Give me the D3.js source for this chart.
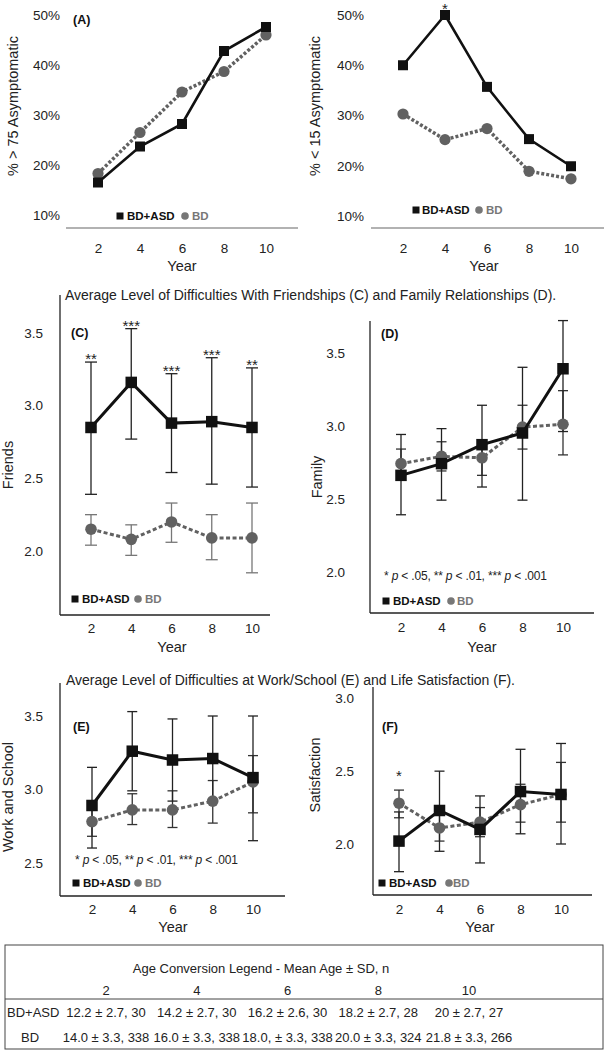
<!DOCTYPE html>
<html><head><meta charset="utf-8">
<script src="https://cdn.jsdelivr.net/npm/d3@7"></script>
<style>body{margin:0;background:#fff}svg{display:block}</style>
</head><body><svg id="c" width="604" height="1050"></svg>
<script>
const years=[2,4,6,8,10];
const pctTicks=[10,20,30,40,50];
// Panel A
const aASD=[16.5,23.7,28.2,42.8,47.6];
const aBD=[18.3,26.5,34.6,38.7,46.0];
// Panel B
const bASD=[40.0,50.0,35.7,25.3,19.9];
const bBD=[30.3,25.2,27.4,18.9,17.4];
const bStars=["","*","","",""];
// Panel C
const cTicks=[2.0,2.5,3.0,3.5];
const cASD=[2.85,3.16,2.88,2.89,2.85];
const cASDlo=[2.39,2.77,2.54,2.46,2.44];
const cASDhi=[3.30,3.53,3.22,3.33,3.26];
const cBD=[2.15,2.08,2.20,2.09,2.09];
const cBDlo=[2.04,1.97,2.06,1.94,1.85];
const cBDhi=[2.25,2.18,2.33,2.25,2.33];
const cStars=["**","***","***","***","**"];
// Panel D
const dTicks=[2.0,2.5,3.0,3.5];
const dASD=[2.66,2.74,2.87,2.95,3.39];
const dASDlo=[2.39,2.49,2.58,2.49,2.96];
const dASDhi=[2.94,2.98,3.14,3.40,3.72];
const dBD=[2.74,2.79,2.78,2.99,3.01];
const dBDlo=[2.64,2.69,2.66,2.84,2.80];
const dBDhi=[2.84,2.89,2.90,3.14,3.24];
// Panel E
const eTicks=[2.5,3.0,3.5];
const eASD=[2.89,3.26,3.20,3.21,3.08];
const eASDlo=[2.60,2.99,2.92,2.93,2.65];
const eASDhi=[3.15,3.53,3.48,3.50,3.50];
const eBD=[2.78,2.86,2.86,2.92,3.05];
const eBDlo=[2.68,2.76,2.74,2.77,2.84];
const eBDhi=[2.89,2.97,2.99,3.06,3.23];
// Panel F
const fTicks=[2.0,2.5,3.0];
const fASD=[2.02,2.23,2.10,2.36,2.34];
const fASDlo=[1.81,1.95,1.87,2.07,2.00];
const fASDhi=[2.22,2.50,2.33,2.65,2.69];
const fBD=[2.28,2.11,2.15,2.27,2.34];
const fBDlo=[2.18,2.02,2.05,2.15,2.15];
const fBDhi=[2.37,2.20,2.25,2.41,2.56];
const fStars=["*","","","",""];
// Table
const tableTitle="Age Conversion Legend - Mean Age \u00b1 SD, n";
const groupNames=["BD+ASD","BD"];
const asdAges=["12.2 \u00b1 2.7, 30","14.2 \u00b1 2.7, 30","16.2 \u00b1 2.6, 30","18.2 \u00b1 2.7, 28","20 \u00b1 2.7, 27"];
const bdAges=["14.0 \u00b1 3.3, 338","16.0 \u00b1 3.3, 338","18.0, \u00b1 3.3, 338","20.0 \u00b1 3.3, 324","21.8 \u00b1 3.3, 266"];
const titleCD="Average Level of Difficulties With Friendships (C) and Family Relationships (D).";
const titleEF="Average Level of Difficulties at Work/School (E) and Life Satisfaction (F).";

const FONT='"Liberation Sans", Arial, sans-serif';
const ASD_COL="#111", BD_COL="#616161", BD_TXT="#777";
const svg=d3.select("#c").style("font-family",FONT);
svg.append("rect").attr("width",604).attr("height",1050).attr("fill","#fff");

function drawPanel(o){
  const g=svg.append("g");
  const x=d3.scalePoint().domain(years).range(o.xr);
  const y=d3.scaleLinear().domain(o.yd).range(o.yr);
  const ya=g.append("g").attr("transform",`translate(${o.yAxisX},0)`)
    .call(d3.axisLeft(y).tickValues(o.ticks).tickSize(0).tickPadding(o.yPad).tickFormat(o.fmt));
  ya.select(".domain").remove();
  ya.attr("font-size",13.5).attr("font-family",FONT).selectAll("text").attr("fill","#222");
  if(o.yLine) g.append("line").attr("x1",o.yAxisX).attr("x2",o.yAxisX).attr("y1",o.yLine[0]).attr("y2",o.yLine[1]).attr("stroke","#222").attr("stroke-width",1.3);
  const xa=g.append("g").attr("transform",`translate(0,${o.xAxisY})`)
    .call(d3.axisBottom(x).tickSize(0).tickPadding(o.xLabelY-o.xAxisY-4.8));
  xa.select(".domain").remove();
  xa.attr("font-size",13.5).attr("font-family",FONT).selectAll("text").attr("fill","#222");
  g.append("line").attr("x1",o.xLine[0]).attr("x2",o.xLine[1]).attr("y1",o.xAxisY).attr("y2",o.xAxisY)
    .attr("stroke",o.xLineCol||"#222").attr("stroke-width",o.xLineW||1.3);
  g.append("text").attr("x",o.xTitle[0]).attr("y",o.xTitle[1]).attr("text-anchor","middle").attr("dy","0.35em")
    .attr("font-size",14.5).attr("fill","#222").text("Year");
  g.append("text").attr("transform",`translate(${o.yTitle[0]},${o.yTitle[1]}) rotate(-90)`).attr("text-anchor","middle").attr("dy","0.35em")
    .attr("font-size",o.yTitleSize||14.5).attr("fill","#222").text(o.yTitleText);
  if(o.label) g.append("text").attr("x",o.label[0]).attr("y",o.label[1]).attr("dy","0.35em").attr("font-size",12.5).attr("font-weight","bold").attr("fill","#111").text(o.label[2]);
  const cap=o.cap||5;
  function errs(m,lo,hi,col){
    const eg=g.append("g").attr("stroke",col).attr("stroke-width",1.3).attr("fill","none");
    years.forEach((yr,i)=>{
      const cx=x(yr);
      eg.append("line").attr("x1",cx).attr("x2",cx).attr("y1",y(lo[i])).attr("y2",y(hi[i]));
      eg.append("line").attr("x1",cx-cap).attr("x2",cx+cap).attr("y1",y(lo[i])).attr("y2",y(lo[i]));
      eg.append("line").attr("x1",cx-cap).attr("x2",cx+cap).attr("y1",y(hi[i])).attr("y2",y(hi[i]));
    });
  }
  if(o.bdLo) errs(o.bd,o.bdLo,o.bdHi,o.bdErrCol||"#333");
  if(o.asdLo) errs(o.asd,o.asdLo,o.asdHi,"#222");
  const line=d3.line().x((d,i)=>x(years[i])).y(d=>y(d));
  g.append("path").datum(o.bd).attr("d",line).attr("fill","none").attr("stroke",BD_COL)
    .attr("stroke-width",o.dashW||3).attr("stroke-dasharray",o.dash||"4,2.5");
  g.selectAll(null).data(o.bd).enter().append("circle").attr("cx",(d,i)=>x(years[i])).attr("cy",d=>y(d))
    .attr("r",o.r||5.8).attr("fill",BD_COL);
  g.append("path").datum(o.asd).attr("d",line).attr("fill","none").attr("stroke",ASD_COL).attr("stroke-width",o.solidW||3);
  const s=o.sq||11.5;
  g.selectAll(null).data(o.asd).enter().append("rect").attr("x",(d,i)=>x(years[i])-s/2).attr("y",d=>y(d)-s/2)
    .attr("width",s).attr("height",s).attr("fill",ASD_COL);
  if(o.stars){
    g.selectAll(null).data(o.stars).enter().append("text")
      .attr("x",(d,i)=>x(years[i])).attr("y",(d,i)=>y(o.starRef[i])+o.starOff)
      .attr("text-anchor","middle").attr("font-size",15).attr("fill","#222").text(d=>d);
  }
  const L=o.legend;
  g.append("rect").attr("x",L.sq-3.5).attr("y",L.y-3.5).attr("width",7).attr("height",7).attr("fill",ASD_COL);
  g.append("text").attr("x",L.t1).attr("y",L.y).attr("dy","0.36em").attr("font-size",11.5).attr("font-weight","bold").attr("fill","#111").text("BD+ASD");
  g.append("circle").attr("cx",L.c).attr("cy",L.y).attr("r",3.8).attr("fill",BD_TXT);
  g.append("text").attr("x",L.t2).attr("y",L.y).attr("dy","0.36em").attr("font-size",11.5).attr("font-weight","bold").attr("fill",BD_TXT).text("BD");
  if(o.note){
    const t=g.append("text").attr("x",o.note[0]).attr("y",o.note[1]).attr("dy","0.35em").attr("font-size",12)
      .attr("textLength",163).attr("lengthAdjust","spacing").attr("fill","#222");
    [["* ",0],["p",1],[" < .05, ** ",0],["p",1],[" < .01, *** ",0],["p",1],[" < .001",0]].forEach(([s,it])=>{
      t.append("tspan").attr("font-style",it?"italic":"normal").text(s);
    });
  }
}

const pctFmt=d=>d+"%";
const numFmt=d3.format(".1f");

drawPanel({xr:[98,266],yd:[10,50],yr:[215,15],ticks:pctTicks,fmt:pctFmt,yAxisX:63,yPad:3,
  xAxisY:228,xLabelY:248,xLine:[66,298],xLineCol:"#666",xLineW:1.2,xTitle:[182,266],yTitle:[13,106],yTitleText:"% > 75 Asymptomatic",
  label:[73,20,"(A)"],asd:aASD,bd:aBD,sq:10,r:5.6,solidW:2.6,dash:"3,2",dashW:3.5,
  legend:{y:216,sq:120,t1:127,c:185,t2:192}});
drawPanel({xr:[403,571],yd:[10,50],yr:[216,15],ticks:pctTicks,fmt:pctFmt,yAxisX:367,yPad:3,
  xAxisY:228,xLabelY:248,xLine:[371,604],xLineCol:"#666",xLineW:1.2,xTitle:[484,266],yTitle:[315,106],yTitleText:"% < 15 Asymptomatic",
  asd:bASD,bd:bBD,sq:10,r:5.6,solidW:2.6,dash:"3,2",dashW:3.5,stars:bStars,starRef:bASD,starOff:-1,
  legend:{y:210,sq:416,t1:422,c:479,t2:486}});
drawPanel({xr:[91,252],yd:[2,3.5],yr:[551,333],ticks:cTicks,fmt:numFmt,yAxisX:60,yPad:17,yLine:[295,615],
  xAxisY:615,xLabelY:628,xLine:[60,270],xTitle:[172,647],yTitle:[8,465],yTitleText:"Friends",
  label:[71,333,"(C)"],asd:cASD,asdLo:cASDlo,asdHi:cASDhi,bd:cBD,bdLo:cBDlo,bdHi:cBDhi,bdErrCol:"#777",cap:6,
  stars:cStars,starRef:cASDhi,starOff:2,legend:{y:599,sq:75,t1:82,c:138,t2:145}});
drawPanel({xr:[401,563],yd:[2,3.5],yr:[571.7,352.7],ticks:dTicks,fmt:numFmt,yAxisX:370,yPad:25,yLine:[321,613],
  xAxisY:613,xLabelY:627,xLine:[370,594],xTitle:[482,647],yTitle:[317,477],yTitleText:"Family",
  label:[381,334,"(D)"],asd:dASD,asdLo:dASDlo,asdHi:dASDhi,bd:dBD,bdLo:dBDlo,bdHi:dBDhi,
  note:[384,576],legend:{y:601,sq:386,t1:393,c:451,t2:457}});
drawPanel({xr:[92,253],yd:[2.5,3.5],yr:[862.7,716],ticks:eTicks,fmt:numFmt,yAxisX:60,yPad:17,yLine:[683,896],
  xAxisY:896,xLabelY:909,xLine:[60,285],xTitle:[173,927],yTitle:[8,797],yTitleText:"Work and School",
  label:[73,727,"(E)"],asd:eASD,asdLo:eASDlo,asdHi:eASDhi,bd:eBD,bdLo:eBDlo,bdHi:eBDhi,
  note:[75,860],legend:{y:883,sq:76,t1:83,c:138,t2:145}});
drawPanel({xr:[399,561],yd:[2,3],yr:[844,698.3],ticks:fTicks,fmt:numFmt,yAxisX:373,yPad:19,yLine:[687,895],
  xAxisY:895,xLabelY:909,xLine:[373,592],xTitle:[480,927],yTitle:[315,775],yTitleText:"Satisfaction",
  label:[382,727,"(F)"],asd:fASD,asdLo:fASDlo,asdHi:fASDhi,bd:fBD,bdLo:fBDlo,bdHi:fBDhi,
  stars:fStars,starRef:fBDhi,starOff:-9,legend:{y:883,sq:382,t1:389,c:449,t2:453}});

svg.append("text").attr("x",65).attr("y",295).attr("dy","0.35em").attr("font-size",14).attr("fill","#222").text(titleCD);
svg.append("text").attr("x",66).attr("y",680).attr("dy","0.35em").attr("font-size",14).attr("fill","#222").text(titleEF);

const tg=svg.append("g").attr("font-size",13).attr("fill","#222");
tg.append("rect").attr("x",5).attr("y",945).attr("width",598).attr("height",104).attr("fill","none").attr("stroke","#444").attr("stroke-width",1);
tg.append("line").attr("x1",5).attr("x2",603).attr("y1",999).attr("y2",999).attr("stroke","#444").attr("stroke-width",1);
const tx=d3.scalePoint().domain(years).range([106,469]);
tg.append("text").attr("x",261).attr("y",968).attr("dy","0.35em").attr("text-anchor","middle").text(tableTitle);
tg.selectAll(null).data(years).enter().append("text").attr("x",d=>tx(d)).attr("y",990).attr("dy","0.35em").attr("text-anchor","middle").text(d=>d);
tg.append("text").attr("x",7).attr("y",1012).attr("dy","0.35em").text(groupNames[0]);
tg.append("text").attr("x",30).attr("y",1037).attr("dy","0.35em").attr("text-anchor","middle").text(groupNames[1]);
tg.selectAll(null).data(asdAges).enter().append("text").attr("x",(d,i)=>tx(years[i])).attr("y",1012).attr("dy","0.35em").attr("text-anchor","middle").text(d=>d);
tg.selectAll(null).data(bdAges).enter().append("text").attr("x",(d,i)=>tx(years[i])).attr("y",1037).attr("dy","0.35em").attr("text-anchor","middle").text(d=>d);
</script></body></html>
